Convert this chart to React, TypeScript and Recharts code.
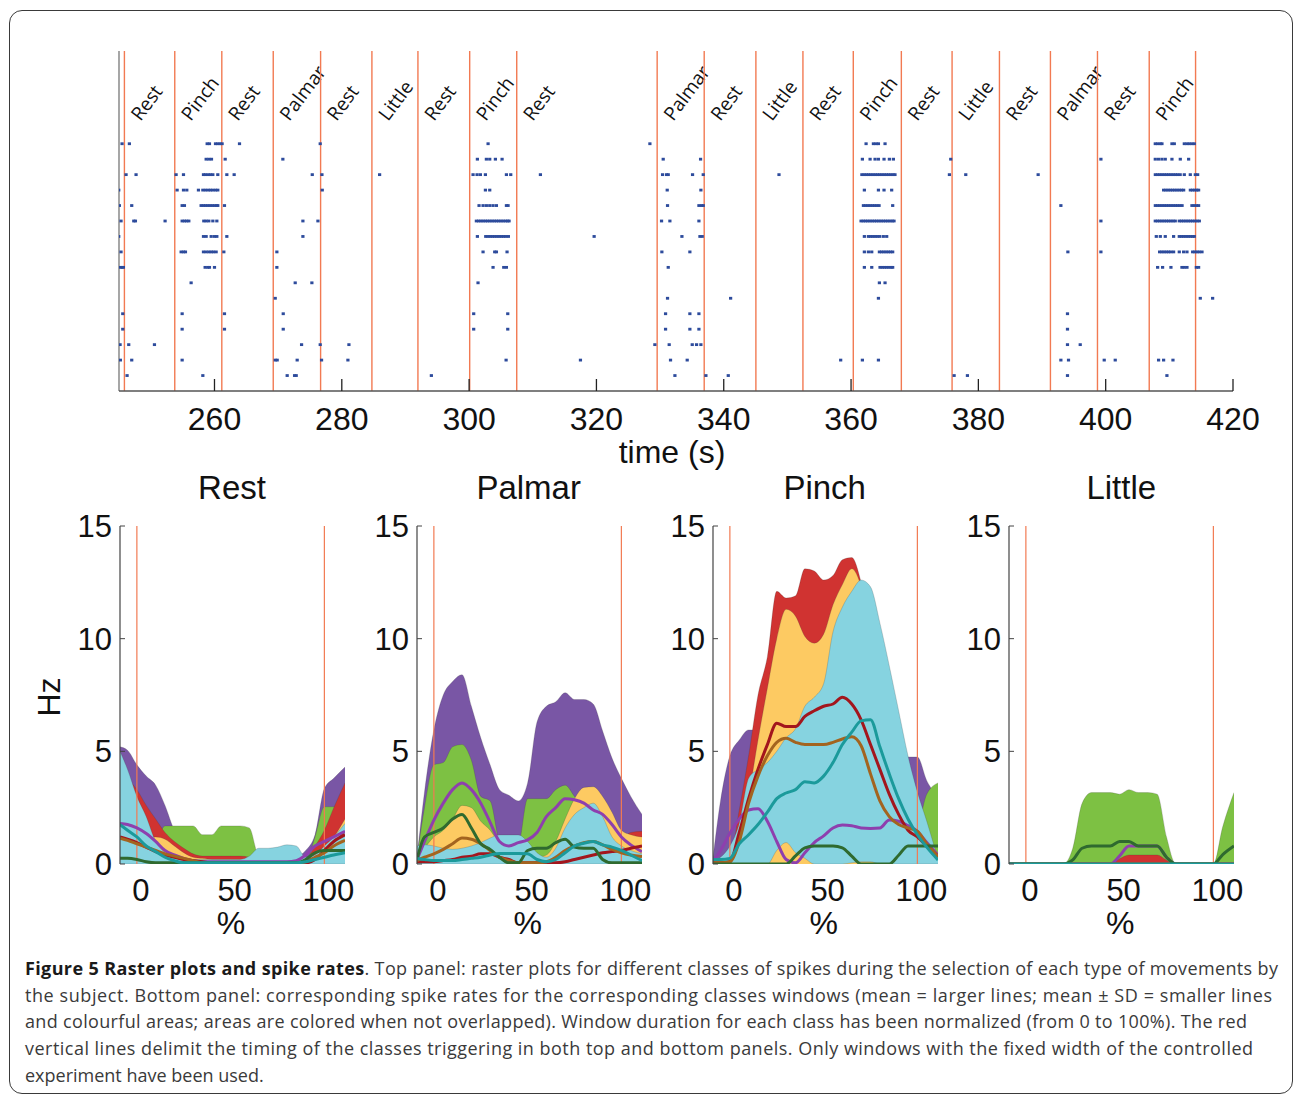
import {
  ScatterChart, Scatter, ComposedChart, Area, Line, XAxis, YAxis, ReferenceLine,
} from "recharts";

// ---- top panel: class boundaries (s) and the class of each window ----
const boundaryTimes = [
  245.85, 253.76, 261.15, 269.23, 276.67, 284.73, 291.96, 300.09, 307.48, 329.54, 336.93,
  345.05, 352.44, 360.35, 367.9, 375.87, 383.31, 391.32, 398.71, 406.84, 414.12,
];
const windowLabels = [
  "Rest", "Pinch", "Rest", "Palmar", "Rest", "Little", "Rest", "Pinch", "Rest", "Palmar",
  "Rest", "Little", "Rest", "Pinch", "Rest", "Little", "Rest", "Palmar", "Rest", "Pinch",
];
const timeTicks = [260, 280, 300, 320, 340, 360, 380, 400, 420];

// spike times (s) per class row, row01 = bottom
const row01 = [246.27, 258.17, 271.42, 272.58, 272.84, 294.07, 332.33, 337.2, 340.71, 376.19, 378.28, 394.0, 409.62];
const row02 = [245.22, 247.0, 254.92, 269.54, 269.85, 272.99, 276.82, 280.96, 305.81, 317.49, 331.64, 334.26, 358.37, 361.78, 364.3, 392.96, 394.16, 399.77, 401.5, 408.31, 409.1, 410.57];
const row03 = [245.17, 246.53, 250.57, 273.68, 276.61, 281.12, 329.18, 331.43, 335.05, 335.73, 336.41, 394.0, 396.0];
const row04 = [245.59, 254.92, 261.57, 270.8, 300.72, 306.07, 330.86, 334.68, 336.1, 394.0];
const row05 = [245.59, 254.92, 261.57, 270.8, 300.72, 306.07, 330.86, 334.68, 336.1, 394.0];
const row06 = [269.54, 331.17, 341.08, 364.3, 414.86, 416.8];
const row07 = [256.33, 272.68, 275.3, 301.4, 364.45, 365.34];
const row08 = [245.22, 245.48, 245.69, 258.53, 258.95, 259.21, 260.0, 269.8, 303.76, 305.44, 305.86, 331.28, 362.09, 363.25, 364.55, 364.9, 365.25, 365.6, 365.95, 366.3, 366.54, 408.16, 408.94, 410.25, 411.98, 412.35, 412.77, 414.24, 414.6];
const row09 = [245.32, 254.76, 255.13, 255.44, 258.27, 258.69, 259.11, 259.48, 259.84, 260.26, 261.47, 269.8, 302.19, 304.02, 304.29, 305.96, 330.28, 334.68, 362.09, 362.72, 363.25, 364.45, 364.8, 365.15, 365.5, 365.85, 366.2, 366.54, 394.06, 399.25, 408.47, 408.82, 409.17, 409.52, 409.87, 410.22, 410.67, 411.56, 412.24, 412.77, 413.66, 414.01, 414.36, 414.71, 415.13];
const row10 = [244.96, 258.27, 258.69, 259.48, 260.0, 260.37, 261.94, 273.89, 301.3, 302.61, 302.96, 303.31, 303.66, 304.01, 304.36, 304.71, 305.06, 305.41, 305.76, 306.17, 319.64, 333.43, 336.26, 336.62, 362.09, 362.72, 363.07, 363.42, 363.77, 364.12, 364.5, 365.07, 365.6, 407.95, 408.58, 409.36, 410.67, 411.56, 411.91, 412.26, 412.61, 412.96, 413.31, 413.66, 413.92];
const row11 = [245.32, 247.32, 247.58, 252.24, 254.92, 255.27, 255.62, 255.97, 258.32, 258.69, 259.11, 259.74, 260.37, 273.89, 276.25, 301.14, 301.5, 301.85, 302.2, 302.55, 302.9, 303.25, 303.6, 303.95, 304.3, 304.65, 305.0, 305.35, 305.7, 306.05, 306.28, 330.23, 331.54, 336.1, 361.57, 361.92, 362.27, 362.62, 362.97, 363.32, 363.67, 364.02, 364.37, 364.72, 365.07, 365.42, 365.77, 366.12, 366.47, 366.75, 399.25, 407.79, 408.14, 408.49, 408.84, 409.19, 409.54, 409.89, 410.24, 410.59, 410.93, 411.56, 411.91, 412.26, 412.61, 412.96, 413.31, 413.66, 414.01, 414.36, 414.71];
const row12 = [245.06, 247.0, 254.92, 255.28, 257.9, 258.25, 258.6, 258.95, 259.3, 259.65, 260.0, 260.35, 260.52, 261.57, 301.56, 302.19, 302.71, 303.24, 303.76, 304.29, 305.86, 306.12, 331.17, 336.1, 336.52, 336.78, 361.94, 362.3, 362.65, 363.0, 363.35, 363.7, 364.05, 364.4, 366.54, 392.96, 407.8, 408.15, 408.5, 408.85, 409.2, 409.55, 409.9, 410.25, 410.6, 410.95, 411.3, 411.65, 412.0, 413.55, 413.9, 414.25, 414.6];
const row13 = [244.96, 254.13, 255.13, 255.65, 257.48, 258.17, 258.58, 259.0, 259.37, 259.74, 260.16, 260.52, 276.93, 302.56, 303.24, 331.12, 336.41, 362.09, 364.3, 365.18, 366.38, 409.1, 409.45, 409.8, 410.15, 410.5, 410.85, 411.2, 411.55, 411.9, 412.25, 413.3, 413.65, 414.0, 414.3, 414.6];
const row14 = [246.11, 247.68, 253.97, 255.13, 258.27, 258.58, 259.0, 259.37, 259.74, 260.52, 261.94, 263.09, 275.36, 276.88, 285.94, 300.62, 301.25, 301.77, 302.56, 305.86, 306.54, 311.2, 330.39, 331.02, 331.28, 335.1, 336.78, 348.68, 361.7, 362.05, 362.4, 362.75, 363.1, 363.45, 363.8, 364.15, 364.5, 364.85, 365.2, 365.55, 365.9, 366.25, 366.6, 366.9, 375.45, 378.02, 389.39, 407.8, 408.15, 408.5, 408.85, 409.2, 409.55, 409.9, 410.25, 410.6, 410.95, 411.3, 411.7, 412.35, 413.29, 414.08, 414.45];
const row15 = [258.69, 259.11, 259.53, 261.68, 270.74, 301.3, 302.71, 303.24, 304.13, 305.18, 330.49, 336.36, 361.78, 362.99, 363.77, 364.3, 365.18, 366.02, 366.65, 375.66, 399.25, 407.79, 408.31, 408.84, 409.36, 410.41, 411.72, 413.03];
const row16 = [245.48, 246.63, 258.85, 259.21, 260.16, 260.52, 260.89, 261.2, 263.93, 276.61, 302.98, 328.4, 362.36, 363.51, 363.93, 364.3, 365.34, 407.79, 408.16, 408.58, 408.84, 410.41, 410.78, 412.35, 412.77, 413.14, 413.55, 413.92];
const spikeRows = [row01, row02, row03, row04, row05, row06, row07, row08, row09, row10, row11, row12, row13, row14, row15, row16];

// ---- bottom panels: % of window and rates (Hz) ----
const pctGrid = [-9, -5, 0, 5, 10, 15, 20, 25, 30, 35, 40, 45, 50, 55, 60, 65, 70, 75, 80, 85, 90, 95, 100, 105, 111];
const pctTicks = [0, 50, 100];
const hzTicks = [0, 5, 10, 15];

const restPurpleBand = [5.2, 5.05, 4.4, 3.9, 3.5, 2.6, 1.5, 1.0, 0.6, 0.4, 0.3, 0.2, 0.2, 0.2, 0.2, 0.2, 0.2, 0.2, 0.2, 0.3, 0.6, 1.3, 3.35, 3.8, 4.3];
const restGreenBand = [0.4, 0.4, 0.5, 0.6, 0.9, 1.69, 1.69, 1.69, 1.69, 1.3, 1.3, 1.69, 1.69, 1.69, 1.6, 0.4, 0.4, 0.4, 0.4, 0.3, 0.1, 1.2, 2.54, 2.54, 2.54];
const restRedBand = [4.2, 3.8, 3.3, 2.6, 2.0, 1.4, 1.0, 0.7, 0.45, 0.35, 0.35, 0.35, 0.35, 0.35, 0.3, 0.1, 0.1, 0.1, 0.1, 0.1, 0.2, 0.8, 1.5, 2.5, 3.6];
const restYellowBand = [1.0, 1.0, 1.0, 1.1, 1.2, 1.1, 0.8, 0.5, 0.3, 0.25, 0.2, 0.2, 0.2, 0.2, 0.15, 0.05, 0.05, 0.05, 0.05, 0.05, 0.1, 0.4, 0.7, 1.2, 2.0];
const restCyanBand = [5.0, 4.2, 3.0, 2.1, 1.0, 0.5, 0.3, 0.2, 0.2, 0.2, 0.2, 0.2, 0.2, 0.2, 0.35, 0.7, 0.7, 0.75, 0.85, 0.8, 0.3, 0.4, 0.8, 1.2, 1.8];
const restCyanLow = [0, 0, 0, 0, 0, 0, 0, 0, 0, 0, 0, 0, 0, 0, 0, 0, 0, 0, 0, 0, 0, 0, 0, 0, 0];
const restPurpleMean = [1.8, 1.75, 1.6, 1.35, 1.0, 0.6, 0.4, 0.25, 0.15, 0.1, 0.1, 0.1, 0.1, 0.1, 0.1, 0.1, 0.1, 0.1, 0.1, 0.15, 0.4, 0.8, 1.0, 1.2, 1.45];
const restRedMean = [1.2, 1.1, 0.95, 0.75, 0.55, 0.4, 0.3, 0.2, 0.15, 0.1, 0.05, 0.05, 0.05, 0.05, 0.05, 0.05, 0.05, 0.05, 0.05, 0.05, 0.05, 0.2, 0.6, 1.0, 1.3];
const restBrownMean = [1.15, 1.05, 0.9, 0.75, 0.6, 0.45, 0.35, 0.25, 0.15, 0.05, 0.05, 0.05, 0.05, 0.05, 0.05, 0.05, 0.05, 0.05, 0.05, 0.05, 0.1, 0.3, 0.5, 0.8, 1.05];
const restGreenMean = [0.25, 0.25, 0.2, 0.1, 0.05, 0.05, 0.05, 0.05, 0.05, 0.05, 0.05, 0.05, 0.05, 0.05, 0.05, 0.05, 0.05, 0.05, 0.05, 0.05, 0.2, 0.5, 0.6, 0.6, 0.6];
const restTealMean = [1.75, 1.5, 1.2, 0.8, 0.55, 0.3, 0.15, 0.05, 0.05, 0.05, 0.05, 0.05, 0.05, 0.05, 0.05, 0.05, 0.05, 0.05, 0.05, 0.05, 0.1, 0.2, 0.3, 0.4, 0.5];

const palmarPurpleBand = [0.3, 3.2, 5.95, 7.5, 8.1, 8.4, 7.0, 5.6, 4.4, 3.3, 3.05, 2.8, 3.6, 6.3, 7.0, 7.2, 7.6, 7.3, 7.3, 7.1, 5.9, 4.7, 3.8, 3.0, 2.2];
const palmarGreenBand = [0.3, 2.5, 4.4, 4.5, 5.2, 5.3, 4.6, 3.0, 2.8, 1.0, 0.6, 0.8, 2.9, 2.9, 2.9, 3.3, 3.5, 3.0, 2.5, 2.0, 1.5, 1.0, 0.5, 0.3, 0.3];
const palmarRedBand = [0.1, 0.1, 0.1, 0.15, 0.2, 0.3, 0.35, 0.45, 0.45, 0.3, 0.2, 0.1, 0.1, 0.1, 0.1, 0.1, 0.15, 0.2, 0.3, 0.4, 0.5, 0.6, 1.0, 1.4, 1.45];
const palmarYellowBand = [0.2, 0.7, 1.2, 1.5, 2.0, 2.6, 2.5, 1.9, 1.5, 0.9, 0.5, 0.4, 0.3, 0.3, 0.4, 1.0, 2.0, 2.9, 3.4, 3.43, 3.0, 2.3, 1.5, 1.3, 1.2];
const palmarCyanBand = [0.8, 0.85, 0.8, 0.7, 0.65, 0.7, 0.8, 0.95, 1.15, 1.29, 1.29, 1.29, 1.0, 0.5, 0.3, 0.7, 1.6, 2.2, 2.5, 2.7, 2.1, 1.2, 0.8, 0.6, 0.45];
const palmarCyanLow = [0, 0, 0, 0, 0, 0, 0, 0, 0, 0, 0, 0, 0, 0, 0, 0, 0, 0, 0, 0, 0, 0, 0, 0, 0];
const palmarPurpleMean = [0.2, 1.0, 1.95, 2.7, 3.3, 3.6, 3.3, 2.7, 1.85, 1.0, 0.8, 0.95, 1.07, 1.4, 2.1, 2.5, 2.9, 2.85, 2.7, 2.4, 2.2, 1.75, 1.2, 0.85, 0.55];
const palmarRedMean = [0.1, 0.1, 0.1, 0.15, 0.2, 0.3, 0.35, 0.45, 0.45, 0.3, 0.2, 0.05, 0.05, 0.05, 0.05, 0.05, 0.1, 0.2, 0.3, 0.4, 0.5, 0.55, 0.6, 0.7, 0.8];
const palmarBrownMean = [0.15, 0.3, 0.45, 0.65, 0.9, 1.15, 1.1, 0.9, 0.6, 0.3, 0.15, 0.05, 0.05, 0.05, 0.1, 0.3, 0.6, 0.8, 0.95, 1.0, 0.85, 0.65, 0.5, 0.4, 0.33];
const palmarGreenMean = [0.2, 1.2, 1.4, 1.6, 2.0, 2.2, 1.6, 0.9, 0.65, 0.3, 0.05, 0.05, 0.6, 0.7, 0.7, 0.95, 1.1, 0.75, 0.7, 0.7, 0.2, 0.05, 0.05, 0.05, 0.05];
const palmarTealMean = [0.25, 0.2, 0.15, 0.15, 0.15, 0.2, 0.25, 0.3, 0.4, 0.47, 0.47, 0.47, 0.45, 0.2, 0.1, 0.2, 0.5, 0.8, 0.92, 1.0, 0.85, 0.75, 0.6, 0.4, 0.15];

const pinchPurpleBand = [0.3, 2.8, 4.8, 5.5, 5.95, 5.95, 4.5, 3.5, 2.5, 2.0, 2.0, 2.0, 2.0, 2.0, 2.0, 2.0, 2.5, 3.0, 3.5, 4.0, 4.6, 4.75, 4.75, 3.7, 3.0];
const pinchGreenBand = [0, 0, 0, 0.2, 0.4, 0.6, 0.8, 0.8, 0.8, 0.8, 0.8, 0.8, 0.8, 0.8, 0.8, 0.8, 0.8, 0.8, 0.8, 0.8, 0.8, 0.9, 1.5, 3.1, 3.6];
const pinchRedBand = [0, 0, 0.2, 2.4, 4.8, 7.5, 9.2, 12.1, 11.8, 11.9, 13.1, 13.0, 12.6, 12.8, 13.5, 13.6, 12.5, 10.5, 9.0, 7.5, 6.0, 4.0, 2.0, 1.0, 0.3];
const pinchYellowBand = [0, 0, 0.1, 1.0, 3.0, 5.5, 7.8, 10.0, 11.3, 11.0, 10.1, 9.8, 10.2, 11.5, 12.4, 13.1, 12.3, 10.3, 8.8, 7.3, 5.8, 3.8, 1.9, 0.9, 0.25];
const pinchCyanBand = [0.1, 0.3, 0.8, 1.8, 3.8, 4.2, 4.5, 5.0, 5.6, 6.0, 7.0, 7.4, 8.0, 10.3, 11.4, 12.1, 12.6, 12.3, 10.7, 8.8, 6.8, 4.8, 3.2, 1.9, 0.2];
const pinchCyanLow = [0, 0, 0, 0, 0, 0, 0, 0.6, 0.95, 0.5, 0.25, 0, 0, 0, 0, 0.05, 0.1, 0.1, 0, 0, 0, 0, 0, 0, 0];
const pinchPurpleMean = [0.1, 0.6, 1.36, 2.0, 2.4, 2.45, 1.9, 1.0, 0.2, 0.05, 0.5, 0.95, 1.25, 1.6, 1.73, 1.7, 1.6, 1.58, 1.6, 1.95, 1.9, 1.7, 1.45, 0.95, 0.4];
const pinchRedMean = [0.05, 0.05, 0.1, 1.4, 2.9, 4.2, 5.3, 6.25, 6.1, 6.1, 6.55, 6.8, 7.0, 7.1, 7.4, 7.1, 6.4, 5.3, 4.2, 3.1, 2.2, 1.5, 1.2, 0.8, 0.35];
const pinchBrownMean = [0.05, 0.05, 0.1, 1.0, 2.7, 3.9, 4.8, 5.4, 5.58, 5.4, 5.3, 5.3, 5.3, 5.4, 5.55, 5.65, 5.25, 4.0, 2.8, 2.1, 1.75, 1.6, 1.45, 0.9, 0.33];
const pinchGreenMean = [0, 0, 0, 0, 0, 0, 0, 0, 0, 0.36, 0.72, 0.8, 0.8, 0.8, 0.72, 0.35, 0, 0, 0, 0, 0.39, 0.8, 0.8, 0.8, 0.8];
const pinchTealMean = [0.2, 0.2, 0.25, 0.9, 1.3, 1.75, 2.3, 2.9, 3.15, 3.3, 3.65, 3.6, 3.9, 4.5, 5.3, 5.85, 6.35, 6.4, 5.2, 4.0, 2.9, 2.0, 1.3, 0.75, 0.18];

const littlePurpleBand = [0, 0, 0, 0, 0, 0, 0, 0, 0, 0, 0, 0, 0, 0, 0, 0, 0, 0, 0, 0, 0, 0, 0, 0, 0];
const littleGreenBand = [0, 0, 0, 0, 0, 0, 0, 0.7, 2.7, 3.17, 3.17, 3.17, 3.1, 3.3, 3.17, 3.17, 3.1, 1.2, 0, 0, 0, 0, 0, 1.66, 3.17];
const littleRedBand = [0, 0, 0, 0, 0, 0, 0, 0, 0, 0, 0, 0, 0.23, 0.4, 0.4, 0.4, 0.4, 0.17, 0, 0, 0, 0, 0, 0, 0];
const littleYellowBand = [0, 0, 0, 0, 0, 0, 0, 0, 0, 0, 0, 0, 0, 0, 0, 0, 0, 0, 0, 0, 0, 0, 0, 0, 0];
const littleCyanBand = [0, 0, 0, 0, 0, 0, 0, 0, 0, 0, 0, 0, 0, 0, 0, 0, 0, 0, 0, 0, 0, 0, 0, 0, 0];
const littleCyanLow = [0, 0, 0, 0, 0, 0, 0, 0, 0, 0, 0, 0, 0, 0, 0, 0, 0, 0, 0, 0, 0, 0, 0, 0, 0];
const littlePurpleMean = [0, 0, 0, 0, 0, 0, 0, 0, 0, 0, 0, 0, 0.36, 0.8, 0.8, 0.8, 0.8, 0.3, 0, 0, 0, 0, 0, 0, 0];
const littleRedMean = [0, 0, 0, 0, 0, 0, 0, 0, 0, 0, 0, 0, 0, 0, 0, 0, 0, 0, 0, 0, 0, 0, 0, 0, 0];
const littleBrownMean = [0, 0, 0, 0, 0, 0, 0, 0, 0, 0, 0, 0, 0, 0, 0, 0, 0, 0, 0, 0, 0, 0, 0, 0, 0];
const littleGreenMean = [0, 0, 0, 0, 0, 0, 0, 0.18, 0.7, 0.8, 0.8, 0.8, 1.0, 1.0, 0.8, 0.8, 0.8, 0.3, 0, 0, 0, 0, 0, 0.42, 0.8];
const littleTealMean = [0, 0, 0, 0, 0, 0, 0, 0, 0, 0, 0, 0, 0, 0, 0, 0, 0, 0, 0, 0, 0, 0, 0, 0, 0];

const captionLines = [
  "the subject. Bottom panel: corresponding spike rates for the corresponding classes windows (mean = larger lines; mean \u00b1 SD = smaller lines",
  "and colourful areas; areas are colored when not overlapped). Window duration for each class has been normalized (from 0 to 100%). The red",
  "vertical lines delimit the timing of the classes triggering in both top and bottom panels. Only windows with the fixed width of the controlled",
  "experiment have been used.",
];

const HELV = "'Liberation Sans', Arial, sans-serif";
const OPEN = "'Open Sans', 'DejaVu Sans', sans-serif";
const BOUNDARY = "#f27a52";

const spikes = spikeRows.flatMap((times, i) => times.map((t) => ({ t, row: i + 1 })));

const buildRows = (s: any) =>
  pctGrid.map((x, i) => ({
    x,
    purpleBand: s.purpleBand[i],
    greenBand: s.greenBand[i],
    redBand: s.redBand[i],
    yellowBand: s.yellowBand[i],
    cyanBand: [s.cyanLow[i], s.cyanBand[i]],
    purpleMean: s.purpleMean[i],
    redMean: s.redMean[i],
    brownMean: s.brownMean[i],
    greenMean: s.greenMean[i],
    tealMean: s.tealMean[i],
  }));

const panels = [
  { title: "Rest", left: 120, rows: buildRows({ purpleBand: restPurpleBand, greenBand: restGreenBand, redBand: restRedBand, yellowBand: restYellowBand, cyanBand: restCyanBand, cyanLow: restCyanLow, purpleMean: restPurpleMean, redMean: restRedMean, brownMean: restBrownMean, greenMean: restGreenMean, tealMean: restTealMean }) },
  { title: "Palmar", left: 416.7, rows: buildRows({ purpleBand: palmarPurpleBand, greenBand: palmarGreenBand, redBand: palmarRedBand, yellowBand: palmarYellowBand, cyanBand: palmarCyanBand, cyanLow: palmarCyanLow, purpleMean: palmarPurpleMean, redMean: palmarRedMean, brownMean: palmarBrownMean, greenMean: palmarGreenMean, tealMean: palmarTealMean }) },
  { title: "Pinch", left: 712.7, rows: buildRows({ purpleBand: pinchPurpleBand, greenBand: pinchGreenBand, redBand: pinchRedBand, yellowBand: pinchYellowBand, cyanBand: pinchCyanBand, cyanLow: pinchCyanLow, purpleMean: pinchPurpleMean, redMean: pinchRedMean, brownMean: pinchBrownMean, greenMean: pinchGreenMean, tealMean: pinchTealMean }) },
  { title: "Little", left: 1009.3, rows: buildRows({ purpleBand: littlePurpleBand, greenBand: littleGreenBand, redBand: littleRedBand, yellowBand: littleYellowBand, cyanBand: littleCyanBand, cyanLow: littleCyanLow, purpleMean: littlePurpleMean, redMean: littleRedMean, brownMean: littleBrownMean, greenMean: littleGreenMean, tealMean: littleTealMean }) },
];

const bands = [
  { key: "purpleBand", fill: "#7956a5" },
  { key: "greenBand", fill: "#7dc143" },
  { key: "redBand", fill: "#d03331" },
  { key: "yellowBand", fill: "#fdca62" },
  { key: "cyanBand", fill: "#86d3e0" },
];
const means = [
  { key: "purpleMean", stroke: "#8e3fae" },
  { key: "redMean", stroke: "#a3161d" },
  { key: "brownMean", stroke: "#a3641f" },
  { key: "greenMean", stroke: "#2f6a2f" },
  { key: "tealMean", stroke: "#1b9a9b" },
];

const SpikeMark = (props: any) => {
  const { cx, cy } = props;
  if (cx == null || cy == null) return null;
  return <rect x={cx - 1.6} y={cy - 1.4} width={3.2} height={2.8} fill="#2d4b9c" />;
};

const BoundaryLabel = (props: any) => {
  const { viewBox, text } = props;
  if (!text || !viewBox) return null;
  const x = viewBox.x + 16;
  const y = 122;
  return (
    <text x={x} y={y} transform={`rotate(-53 ${x} ${y})`} fontSize={19} fontFamily={OPEN} fill="#111">
      {text}
    </text>
  );
};

const TimeTick = (props: any) => {
  const { x, y, payload } = props;
  return (
    <g>
      <line x1={x} x2={x} y1={y - 12} y2={y} stroke="#222" strokeWidth={1.3} />
      <text x={x} y={y + 39} textAnchor="middle" fontSize={32} fontFamily={HELV} fill="#111">
        {payload.value}
      </text>
    </g>
  );
};

const PctTick = (props: any) => {
  const { x, y, payload } = props;
  return (
    <text x={x + 4} y={y + 37} textAnchor="middle" fontSize={31} fontFamily={HELV} fill="#111">
      {payload.value}
    </text>
  );
};

const HzTick = (props: any) => {
  const { x, y, payload } = props;
  return (
    <g>
      <line x1={x} x2={x + 5} y1={y} y2={y} stroke="#444" />
      <text x={x - 8} y={y + 11} textAnchor="end" fontSize={31} fontFamily={HELV} fill="#111">
        {payload.value}
      </text>
    </g>
  );
};

const RasterChart = () => (
  <ScatterChart width={1293} height={480} margin={{ top: 51, right: 60, bottom: 9, left: 119 }}>
    <XAxis
      dataKey="t"
      type="number"
      domain={[245, 420]}
      ticks={timeTicks}
      allowDataOverflow
      height={80}
      axisLine={{ stroke: "#555", strokeWidth: 1.3 }}
      tickLine={false}
      tickSize={0}
      tickMargin={0}
      tick={<TimeTick />}
    />
    <YAxis dataKey="row" type="number" domain={[0, 22]} hide />
    <ReferenceLine x={245} stroke="#777" strokeWidth={1.3} />
    {boundaryTimes.map((t, i) => (
      <ReferenceLine
        key={t}
        x={t}
        stroke={BOUNDARY}
        strokeWidth={1.4}
        label={<BoundaryLabel text={windowLabels[i]} />}
      />
    ))}
    <Scatter data={spikes} shape={SpikeMark} isAnimationActive={false} />
  </ScatterChart>
);

const RateChart = ({ left, rows }: { left: number; rows: any[] }) => (
  <div style={{ position: "absolute", left: left - 90, top: 460 }}>
    <ComposedChart width={325} height={480} data={rows} margin={{ top: 66, right: 10, bottom: 0, left: 0 }}>
      <XAxis
        dataKey="x"
        type="number"
        domain={[-9, 111]}
        ticks={pctTicks}
        allowDataOverflow
        height={76}
        axisLine={false}
        tickLine={false}
        tickSize={0}
        tickMargin={0}
        tick={<PctTick />}
      />
      <YAxis
        type="number"
        domain={[0, 15]}
        ticks={hzTicks}
        allowDataOverflow
        width={90}
        axisLine={{ stroke: "#444", strokeWidth: 1.2 }}
        tickLine={false}
        tickSize={0}
        tickMargin={0}
        tick={<HzTick />}
      />
      {bands.map((b) => (
        <Area
          key={b.key}
          dataKey={b.key}
          type="monotone"
          fill={b.fill}
          fillOpacity={1}
          stroke="#3a3a3a"
          strokeOpacity={0.35}
          strokeWidth={0.6}
          isAnimationActive={false}
        />
      ))}
      <ReferenceLine x={0} stroke={BOUNDARY} strokeWidth={1.2} />
      <ReferenceLine x={100} stroke={BOUNDARY} strokeWidth={1.2} />
      {means.map((m) => (
        <Line
          key={m.key}
          dataKey={m.key}
          type="monotone"
          stroke={m.stroke}
          strokeWidth={3}
          dot={false}
          isAnimationActive={false}
        />
      ))}
    </ComposedChart>
  </div>
);

export default function App() {
  return (
    <div style={{ position: "relative", width: 1293, height: 1095, background: "#fff", overflow: "hidden" }}>
      <style>{"body{margin:0}"}</style>
      <div
        style={{
          position: "absolute", left: 9, top: 10, width: 1284, height: 1084,
          border: "1.6px solid #3a3a3a", borderRadius: 13, boxSizing: "border-box",
        }}
      />
      <svg width={1293} height={1095} style={{ position: "absolute", left: 0, top: 0 }}>
        <text x={672} y={463} textAnchor="middle" fontSize={32} fontFamily={HELV} fill="#111">time (s)</text>
        <text x={59.5} y={697} textAnchor="middle" fontSize={32} fontFamily={HELV} fill="#111" transform="rotate(-90 59.5 697)">Hz</text>
        {panels.map((p) => (
          <g key={p.title}>
            <text x={p.left + 112} y={499} textAnchor="middle" fontSize={33} fontFamily={HELV} fill="#111">{p.title}</text>
            <text x={p.left + 111} y={934} textAnchor="middle" fontSize={32} fontFamily={HELV} fill="#111">%</text>
          </g>
        ))}
        <text x={25} y={975} fontSize={18} fontFamily={OPEN} fill="#3a3a3a" textLength={1253} lengthAdjust="spacing">
          <tspan fontWeight="bold" fill="#1a1a1a">Figure 5 Raster plots and spike rates</tspan>
          <tspan>. Top panel: raster plots for different classes of spikes during the selection of each type of movements by</tspan>
        </text>
        {captionLines.map((line, i) => (
          <text
            key={i}
            x={25}
            y={1001.7 + i * 26.67}
            fontSize={18}
            fontFamily={OPEN}
            fill="#3a3a3a"
            {...(i < 3 ? { textLength: [1247, 1222, 1228][i], lengthAdjust: "spacing" } : {})}
          >
            {line}
          </text>
        ))}
      </svg>
      <div style={{ position: "absolute", left: 0, top: 0 }}>
        <RasterChart />
      </div>
      {panels.map((p) => (
        <RateChart key={p.title} left={p.left} rows={p.rows} />
      ))}
    </div>
  );
}
